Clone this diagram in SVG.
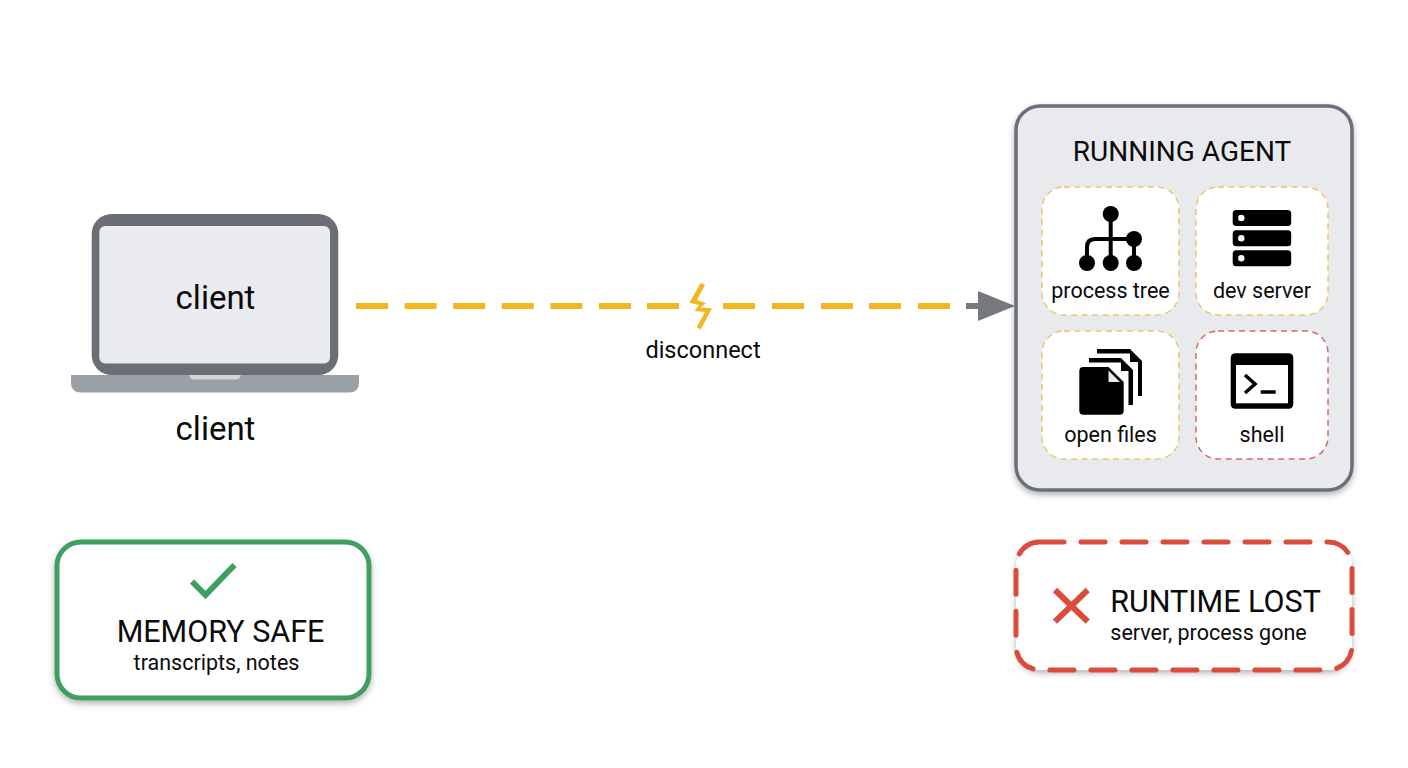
<svg xmlns="http://www.w3.org/2000/svg" width="1408" height="768" viewBox="0 0 1408 768">
<style>
text{font-family:Roboto,"Liberation Sans",sans-serif;fill:#0b0b0b;text-anchor:middle}
.card{fill:#fff;stroke-width:1.5;stroke-dasharray:6 4.5}
.y{stroke:#f0c46a}.r{stroke:#d9695f}
.lbl{font-size:21.5px}
.k{fill:#000}
</style>
<defs>
<filter id="sh" x="-10%" y="-10%" width="120%" height="125%"><feDropShadow dx="0" dy="3" stdDeviation="3" flood-color="#000" flood-opacity="0.3"/></filter>
<marker id="ah" markerUnits="userSpaceOnUse" markerWidth="38" markerHeight="32" refX="0" refY="16" orient="auto"><path d="M0 1L37 16L0 31Z" fill="#75787d"/></marker>
</defs>
<rect width="1408" height="768" fill="#fff"/>
<g id="connectors">
<path d="M356 306h32M404.600 306h32M453.200 306h32M501.800 306h32M550.400 306h32M599 306h32M647 306h32M723 306h32M772 306h32M821 306h32M869 306h32M918 306h32" stroke="#f0b71e" stroke-width="6" fill="none"/>
<line x1="966" y1="306" x2="978" y2="306" stroke="#75787d" stroke-width="6" marker-end="url(#ah)"/>
<polygon points="700.500,283 705,284.700 697,300 706,303.300 700.500,307.500 712,308.300 700.700,329.500 696.700,327.300 705,312 694.500,311 699,305 689.500,302.700" fill="#f0b71e"/>
</g>
<text x="703" y="358" font-size="23.500">disconnect</text>
<g id="client">
<rect x="91.700" y="214" width="246.600" height="161" rx="20" fill="#6b6e74"/>
<rect x="99.300" y="226" width="230.700" height="137.500" rx="6" fill="#e9ebee"/>
<path d="M71 375H359V383Q359 392.500 349 392.500H81Q71 392.500 71 383Z" fill="#9aa0a6"/>
<path d="M189 375H241Q240 379.500 235 379.500H195Q190 379.500 189 375Z" fill="#d3d5d8"/>
<text x="215.500" y="309" font-size="33">client</text>
<text x="215.500" y="440" font-size="33">client</text>
</g>
<g id="running-agent">
<rect x="1016" y="106" width="336" height="384" rx="24" fill="#e8eaed" stroke="#6b7077" stroke-width="3.500" filter="url(#sh)"/>
<text x="1182" y="161" font-size="28">RUNNING AGENT</text>
</g>
<g id="process-tree">
<rect class="card y" x="1042" y="187" width="137" height="128" rx="22"/>
<g fill="none" stroke="#000" stroke-width="4"><path d="M1110.700 214V263M1087 263V247Q1087 239 1095 239H1134V263"/></g>
<g class="k"><circle cx="1110.700" cy="214" r="8"/><circle cx="1134" cy="239" r="8"/><circle cx="1087" cy="263" r="8"/><circle cx="1110.700" cy="263" r="8"/><circle cx="1134" cy="263" r="8"/></g>
<text class="lbl" x="1110.500" y="298">process tree</text>
</g>
<g id="dev-server">
<rect class="card y" x="1196" y="187" width="132" height="128" rx="22"/>
<g class="k"><rect x="1232.700" y="210" width="58.500" height="16" rx="3.500"/><rect x="1232.700" y="230.300" width="58.500" height="16" rx="3.500"/><rect x="1232.700" y="250.300" width="58.500" height="16" rx="3.500"/></g>
<g fill="#fff"><circle cx="1241.300" cy="218" r="3.200"/><circle cx="1241.300" cy="238.300" r="3.200"/><circle cx="1241.300" cy="258.300" r="3.200"/></g>
<text class="lbl" x="1262" y="298">dev server</text>
</g>
<g id="open-files">
<rect class="card y" x="1042" y="331" width="137" height="128" rx="22"/>
<path class="k" d="M1097 349H1130L1142 361V396H1138V362H1130V353.500H1097Z"/>
<path class="k" d="M1089 358H1121L1133 370V405H1128.500V371H1121V362.500H1089Z"/>
<path class="k" d="M1083.300 367H1108.500L1123.700 382V410.700Q1123.700 414.700 1119.700 414.700H1083.300Q1079.300 414.700 1079.300 410.700V371Q1079.300 367 1083.300 367Z"/>
<path d="M1108.500 370.500L1120 382H1108.500Z" fill="#e8eaed"/>
<text class="lbl" x="1110.500" y="442">open files</text>
</g>
<g id="shell">
<rect class="card r" x="1196" y="331" width="132" height="128" rx="22"/>
<rect x="1230.700" y="353.300" width="62.600" height="55.400" rx="4.500" class="k"/>
<rect x="1236" y="365" width="52" height="38.300" fill="#fff"/>
<path d="M1245 375L1255 384L1245 393" fill="none" stroke="#000" stroke-width="3.500"/>
<path d="M1260.700 392H1275.700" fill="none" stroke="#000" stroke-width="3.500"/>
<text class="lbl" x="1262" y="442">shell</text>
</g>
<g id="memory-safe">
<rect x="57" y="542" width="312" height="156" rx="24" fill="#fff" stroke="#3f9f61" stroke-width="5" filter="url(#sh)"/>
<path d="M192 581.500L205.500 595L234.500 565" fill="none" stroke="#3f9f61" stroke-width="6"/>
<text x="220.500" y="642" font-size="30.500">MEMORY SAFE</text>
<text x="216.500" y="670" font-size="21.500">transcripts, notes</text>
</g>
<g id="runtime-lost">
<rect x="1016" y="542" width="336" height="128" rx="24" fill="#fff" filter="url(#sh)"/>
<rect x="1016" y="542" width="336" height="128" rx="24" fill="none" stroke="#dc4c3c" stroke-width="5" stroke-linecap="round" stroke-dasharray="24 17"/>
<path d="M1055 590L1087.700 621.700M1087.700 590L1055 621.700" fill="none" stroke="#dc4c3c" stroke-width="6"/>
<text x="1215.500" y="612" font-size="30.500">RUNTIME LOST</text>
<text x="1208.500" y="640" font-size="21.500">server, process gone</text>
</g>
</svg>
